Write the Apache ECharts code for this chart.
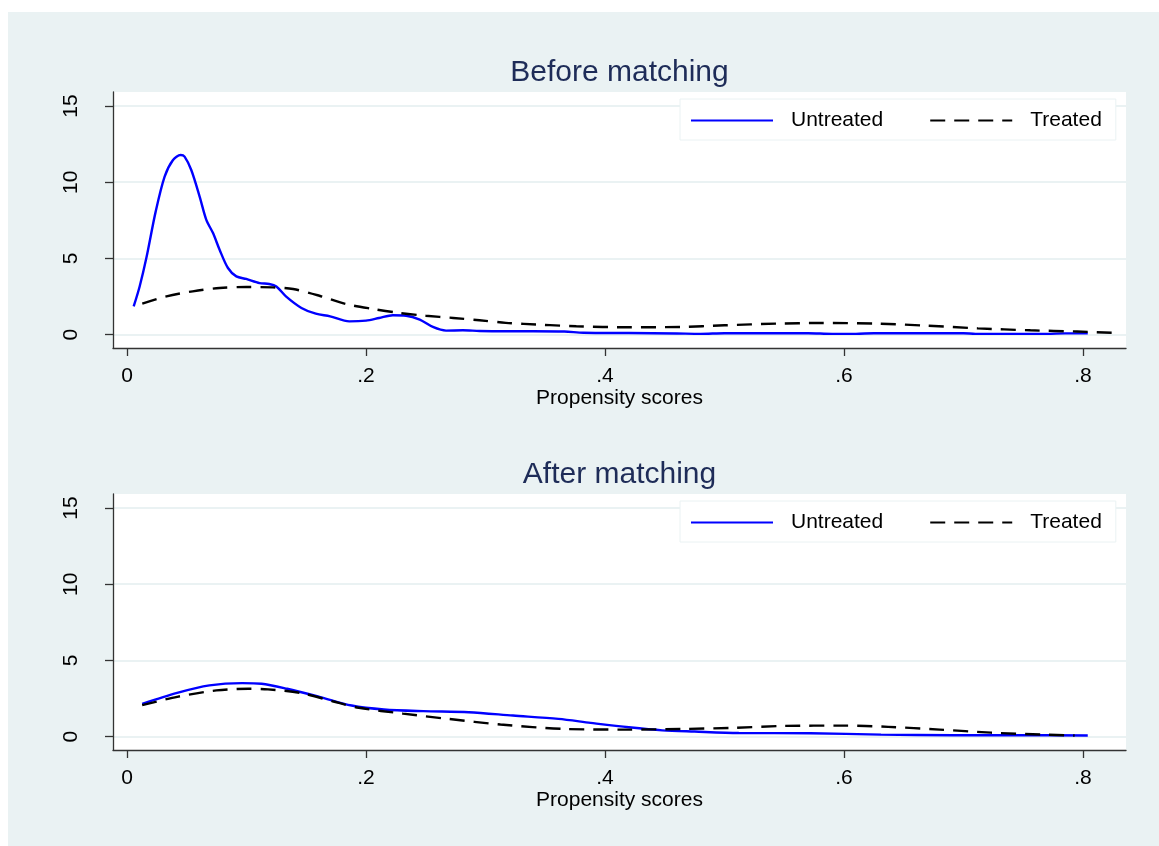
<!DOCTYPE html>
<html>
<head>
<meta charset="utf-8">
<script src="https://cdn.jsdelivr.net/npm/echarts@6/dist/echarts.min.js"></script>
<style>
html,body{margin:0;padding:0;background:#ffffff;}
#chart{width:1159px;height:846px;}
</style>
</head>
<body>
<div id="chart"></div>
<script>
// ---- Data ----
const panelTitles = ['Before matching', 'After matching'];
const seriesNames = ['Untreated', 'Treated'];
const xTicks = [0, 0.2, 0.4, 0.6, 0.8];
const yTicks = [0, 5, 10, 15];
const xAxisTitle = 'Propensity scores';

const beforeUntreated = [
  [0.0056,1.85],[0.0106,3.16],[0.0162,5.02],[0.024,8.07],[0.0315,10.37],[0.0385,11.46],
  [0.0449,11.79],[0.0482,11.68],[0.0538,10.8],[0.0608,9.06],[0.0664,7.53],[0.072,6.66],
  [0.0775,5.57],[0.0845,4.37],[0.0915,3.82],[0.0998,3.65],[0.111,3.38],[0.119,3.32],
  [0.125,3.16],[0.133,2.51],[0.146,1.75],[0.158,1.37],[0.170,1.2],[0.186,0.87],
  [0.200,0.92],[0.211,1.09],[0.2225,1.27],[0.2336,1.24],[0.245,0.98],[0.256,0.50],
  [0.267,0.26],[0.281,0.28],[0.295,0.24],[0.3145,0.22],[0.34,0.22],[0.366,0.2],
  [0.382,0.12],[0.42,0.1],[0.46,0.07],[0.48,0.05],[0.50,0.09],[0.57,0.09],[0.59,0.05],
  [0.61,0.05],[0.625,0.09],[0.70,0.09],[0.71,0.05],[0.77,0.05],[0.785,0.08],[0.804,0.08]
];
const beforeTreated = [
  [0.0128,2.03],[0.033,2.51],[0.055,2.84],[0.0775,3.06],[0.0998,3.12],[0.122,3.10],
  [0.139,2.99],[0.161,2.55],[0.183,2.01],[0.206,1.68],[0.228,1.42],[0.250,1.24],
  [0.273,1.09],[0.295,0.94],[0.317,0.77],[0.332,0.70],[0.376,0.55],[0.42,0.48],
  [0.463,0.5],[0.50,0.61],[0.544,0.72],[0.58,0.76],[0.628,0.72],[0.668,0.59],
  [0.712,0.41],[0.756,0.28],[0.795,0.20],[0.824,0.12]
];
const afterUntreated = [
  [0.0127,2.15],[0.042,2.87],[0.069,3.36],[0.0964,3.51],[0.1126,3.47],[0.134,3.14],
  [0.161,2.61],[0.188,2.04],[0.215,1.78],[0.248,1.67],[0.286,1.6],[0.323,1.38],
  [0.361,1.16],[0.388,0.90],[0.42,0.61],[0.448,0.41],[0.475,0.33],[0.512,0.24],
  [0.572,0.22],[0.631,0.13],[0.691,0.09],[0.745,0.09],[0.804,0.07]
];
const afterTreated = [
  [0.0127,2.06],[0.042,2.61],[0.0748,3.03],[0.1018,3.14],[0.118,3.1],[0.145,2.87],
  [0.172,2.32],[0.194,1.89],[0.231,1.51],[0.269,1.16],[0.3125,0.79],[0.3665,0.5],
  [0.42,0.46],[0.464,0.5],[0.507,0.57],[0.55,0.70],[0.599,0.72],[0.637,0.64],
  [0.68,0.46],[0.723,0.26],[0.766,0.13],[0.793,0.07]
];

// ---- Styling ----
const FONT = "'Liberation Sans', Arial, Helvetica, sans-serif";
const BG = '#eaf2f3';
const AXIS = '#333333';
const fmtX = v => v === 0 ? '0' : String(+v.toFixed(1)).replace(/^0\./, '.');

const gridTops = [92, 494];
const titleTops = [58, 460];
const legendTops = [99, 501];

const grids = gridTops.map(t => ({
  left: 113, top: t, width: 1013, height: 256,
  show: true, backgroundColor: '#ffffff', borderWidth: 0, containLabel: false
}));

const xAxes = gridTops.map((t, i) => ({
  type: 'value', gridIndex: i, min: -0.0117, max: 0.836,
  name: xAxisTitle, nameLocation: 'middle', nameGap: 40,
  nameTextStyle: { fontFamily: FONT, fontSize: 21, color: '#000' },
  axisLine: { show: true, onZero: false, lineStyle: { color: AXIS, width: 1.3 } },
  axisTick: { show: true, length: 8, customValues: xTicks, lineStyle: { color: AXIS, width: 1.3 } },
  axisLabel: { customValues: xTicks, formatter: fmtX, margin: 18,
    fontFamily: FONT, fontSize: 21, color: '#000' },
  splitLine: { show: false }
}));

const yAxes = gridTops.map((t, i) => ({
  type: 'value', gridIndex: i, min: -0.88, max: 15.92,
  axisLine: { show: true, onZero: false, lineStyle: { color: AXIS, width: 1.3 } },
  axisTick: { show: true, length: 8, customValues: yTicks, lineStyle: { color: AXIS, width: 1.3 } },
  axisLabel: { customValues: yTicks, rotate: 90, margin: 31,
    fontFamily: FONT, fontSize: 21, color: '#000' },
  splitLine: { show: true, lineStyle: { color: BG, width: 2 } }
}));

const panels = [[beforeUntreated, beforeTreated], [afterUntreated, afterTreated]];
const series = [];
panels.forEach((pair, i) => {
  series.push({
    name: seriesNames[0], type: 'line', xAxisIndex: i, yAxisIndex: i,
    data: pair[0], smooth: 0.3, symbol: 'none', showSymbol: false,
    lineStyle: { color: '#0000ff', width: 2.4 }, itemStyle: { color: '#0000ff' }, z: 3
  });
  series.push({
    name: seriesNames[1], type: 'line', xAxisIndex: i, yAxisIndex: i,
    data: pair[1], smooth: 0.3, symbol: 'none', showSymbol: false,
    lineStyle: { color: '#000000', width: 2.4, type: [15, 9] }, itemStyle: { color: '#000000' }, z: 4
  });
});

const titles = panelTitles.map((txt, i) => ({
  text: txt, left: 619.5, textAlign: 'center', top: titleTops[i], padding: 0,
  textStyle: { fontFamily: FONT, fontSize: 30, fontWeight: 'normal', color: '#1e2c58' }
}));

const legends = legendTops.map(t => ({
  data: seriesNames, left: 680, top: t, orient: 'horizontal',
  itemWidth: 82, itemHeight: 14, itemGap: 46,
  padding: [11, 14, 9, 10],
  backgroundColor: '#ffffff', borderColor: BG, borderWidth: 1,
  selectedMode: false,
  itemStyle: { opacity: 0 },
  textStyle: { fontFamily: FONT, fontSize: 21, color: '#000', padding: [0, 0, 0, 13] }
}));

const chart = echarts.init(document.getElementById('chart'), null, { renderer: 'canvas' });
chart.setOption({
  animation: false,
  backgroundColor: '#ffffff',
  graphic: [{ type: 'rect', left: 8, top: 12, shape: { width: 1151, height: 834 },
    style: { fill: BG }, z: -10, silent: true }],
  title: titles,
  legend: legends,
  grid: grids,
  xAxis: xAxes,
  yAxis: yAxes,
  series: series
});
</script>
</body>
</html>
